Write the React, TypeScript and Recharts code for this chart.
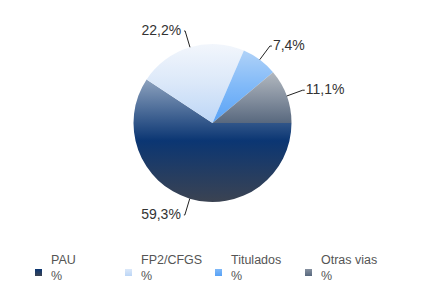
import { PieChart, Pie, Cell, Legend } from 'recharts'

const CATEGORIES = ['PAU', 'FP2/CFGS', 'Titulados', 'Otras vias']
const SHARES = [59.3, 22.2, 7.4, 11.1]
const GRADIENTS: string[][] = [
  ['#8da2be', '#0b3673', '#3b4352'],
  ['#f2f6fc', '#dbe8f9', '#bcd6f6'],
  ['#b0d2f8', '#80b9f8', '#58a2f6'],
  ['#b2b8bf', '#8691a0', '#58687e'],
]

const data = CATEGORIES.map((name, i) => ({ name, value: SHARES[i] }))

const RADIAN = Math.PI / 180

function renderLabel(props: any) {
  const { cx, cy, midAngle, outerRadius, value } = props
  const cos = Math.cos(-midAngle * RADIAN)
  const sin = Math.sin(-midAngle * RADIAN)
  const sx = cx + outerRadius * cos
  const sy = cy + outerRadius * sin
  const ex = cx + (outerRadius + 17) * cos
  const ey = cy + (outerRadius + 17) * sin
  const right = cos >= 0
  const tx = ex + (right ? 3 : -4)
  return (
    <g>
      <path d={`M${sx},${sy}L${ex},${ey}L${ex + (right ? 2 : -1)},${ey}`} stroke="#222" strokeWidth={1} fill="none" />
      <text
        x={tx}
        y={ey - 1}
        textAnchor={right ? 'start' : 'end'}
        dominantBaseline="central"
        fill="#333"
        fontSize={14}
        fontFamily="'Liberation Sans', Arial, sans-serif"
      >
        {String(value).replace('.', ',') + '%'}
      </text>
    </g>
  )
}

function LegendContent() {
  return (
    <div style={{ position: 'relative', width: 425, height: 40, fontFamily: "'Liberation Sans', Arial, sans-serif" }}>
      {CATEGORIES.map((name, i) => (
        <div key={name} style={{ position: 'absolute', left: 35 + i * 90, top: 0 }}>
          <div
            style={{
              position: 'absolute',
              left: 0,
              top: 17,
              width: 7,
              height: 7,
              background: `linear-gradient(${GRADIENTS[i][1]}, ${GRADIENTS[i][2]})`,
            }}
          />
          <div style={{ position: 'absolute', left: 16, top: 0, fontSize: 12.5, lineHeight: '16px', color: '#555', whiteSpace: 'nowrap' }}>
            {name}
            <br />%
          </div>
        </div>
      ))}
    </div>
  )
}

export default function App() {
  return (
    <div style={{ position: 'absolute', left: 0, top: 0, width: 425, height: 306, background: '#fff' }}>
      <PieChart width={425} height={306} margin={{ top: 0, right: 0, bottom: 0, left: 0 }}>
        <defs>
          {GRADIENTS.map((g, i) => (
            <linearGradient key={i} id={`grad${i}`} x1="0" y1="0" x2="0" y2="1">
              <stop offset="0%" stopColor={g[0]} />
              <stop offset="50%" stopColor={g[1]} />
              <stop offset="100%" stopColor={g[2]} />
            </linearGradient>
          ))}
        </defs>
        <Pie
          data={data}
          dataKey="value"
          nameKey="name"
          cx={212.5}
          cy={123}
          outerRadius={79}
          startAngle={0}
          endAngle={-360}
          label={renderLabel}
          labelLine={false}
          isAnimationActive={false}
        >
          {data.map((d, i) => (
            <Cell key={d.name} fill={`url(#grad${i})`} stroke="none" />
          ))}
        </Pie>
        <Legend
          content={() => <LegendContent />}
          wrapperStyle={{ position: 'absolute', left: 0, top: 252, width: 425 }}
        />
      </PieChart>
    </div>
  )
}
